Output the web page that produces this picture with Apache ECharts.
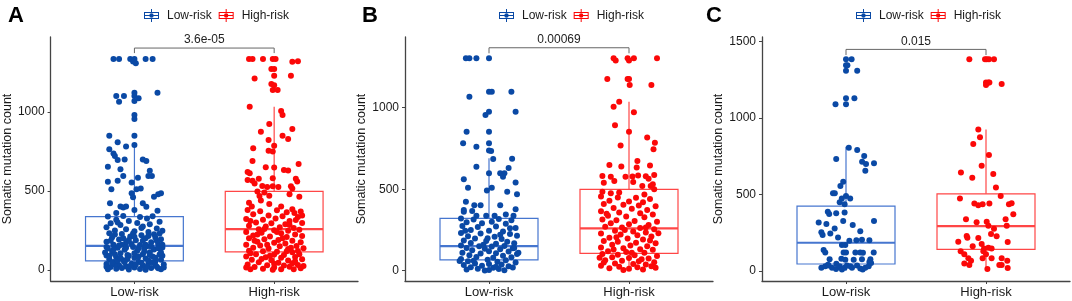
<!DOCTYPE html>
<html>
<head>
<meta charset="utf-8">
<script src="https://cdn.jsdelivr.net/npm/echarts@6/dist/echarts.min.js"></script>
<style>
html, body { margin: 0; padding: 0; background: #fff; }
#main { width: 1072px; height: 301px; }
</style>
</head>
<body>
<div id="main"></div>
<script>
var groups = ['Low-risk', 'High-risk'];
var panelLetters = ['A', 'B', 'C'];
var pValues = ['3.6e-05', '0.00069', '0.015'];
var yTicksAB = [0, 500, 1000];
var yTicksC = [0, 500, 1000, 1500];

// box stats: [min, q1, median, q3, upper whisker]
var boxA = [[0, 57, 152, 337, 791], [0, 114, 259, 498, 1034]];
var boxB = [[0, 66, 151, 321, 690], [0, 107, 260, 499, 1037]];
var boxC = [[0, 44, 183, 423, 810], [0, 140, 292, 503, 924]];

// jittered points: [offset from group centre, mutation count]
var lowA = [
[-0.15,1335],[-0.11,1335],[-0.03,1335],[-0.01,1320],[0,1335],[0.01,1308],[0.08,1335],[0.13,1335],
[-0.13,1101],[-0.11,1065],[-0.075,1101],[0,1122],[0,1101],[0,1069],[0.03,1087],[0.165,1122],
[0,981],[0,956],[-0.18,850],[0,850],[0,791],[-0.12,808],[-0.06,781],[-0.18,764],[-0.15,738],[-0.14,722],
[-0.07,700],[-0.12,696],[-0.19,654],[0.06,700],[0.085,690],[-0.10,637],[0.11,628],[0.1,595],[0.125,595],
[-0.08,595],[0.025,584],[-0.12,565],[-0.19,559],[-0.02,553],[-0.165,511],[0.015,511],[0.045,515],[-0.02,485],
[0.19,485],[0.17,480],[0.14,464],[-0.01,460],[-0.175,422],[0.06,422],[-0.1,401],[-0.06,401],[-0.08,395],
[0.085,400],[0,380],[-0.13,360],[0.165,375],
[-0.19,338],[-0.08,342],[0.04,335],[0.13,340],[-0.13,318],[0.09,325],[-0.04,310],[0.18,305],[-0.17,295],
[0.02,298],[0.11,290],[-0.1,285],[-0.2,270],[0.06,275],[0.16,262],[-0.06,258],[-0.14,250],[0.0,245],[0.1,240],
[0.2,248],[-0.18,232],[-0.09,228],[0.05,220],[0.14,226],[-0.03,212],[-0.16,205],[0.08,200],[0.19,195],
[-0.11,192],[0.01,188],[-0.2,178],[-0.06,172],[0.12,176],[0.17,165],[-0.15,160],[0.04,158],[-0.01,145],
[0.09,150],[-0.12,140],[-0.19,135],[0.2,142],[0.14,130],[-0.07,128],[0.02,122],[-0.16,115],[0.11,112],
[-0.1,105],[0.06,100],[0.18,98],[-0.2,92],[-0.04,90],[0.13,85],[-0.13,80],[0.0,78],[0.08,72],[-0.18,68],
[0.19,65],[-0.08,62],[0.15,55],[-0.15,50],[0.03,52],[-0.02,40],[0.1,42],[-0.2,38],[0.21,35],[-0.11,30],
[0.06,28],[-0.06,22],[0.16,20],[-0.17,18],[0.0,15],[0.12,12],[-0.13,8],[0.04,6],[-0.04,3],[0.19,4],
[-0.09,12],[0.08,2],[-0.19,5],[0.15,30],[-0.14,35],[0.1,60],[-0.05,70],[0.2,90],[-0.21,110],[0.07,135],
[-0.09,160],[0.16,185],[-0.01,230],[0.05,265],[-0.12,300],
[-0.2,20],[-0.16,45],[-0.12,60],[-0.07,48],[-0.03,25],[0.01,35],[0.05,45],[0.09,20],[0.13,48],[0.17,10],
[0.21,15],[-0.18,88],[-0.14,100],[-0.1,75],[-0.05,95],[0.0,105],[0.03,85],[0.07,115],[0.11,95],[0.15,78],
[0.19,110],[-0.2,145],[-0.15,130],[-0.11,155],[-0.06,140],[-0.02,165],[0.03,138],[0.08,160],[0.12,148],
[0.17,138],[0.2,160],[-0.17,185],[-0.08,200],[0.0,210],[0.1,215],[-0.14,225],[0.15,205],[-0.04,190],
[0.06,185],[0.18,230]
];
var highA = [
[-0.18,1335],[-0.155,1335],[-0.08,1335],[-0.01,1335],[0.01,1335],[0.13,1318],[0.17,1322],[-0.02,1272],
[0.0,1272],[-0.14,1213],[0.12,1230],[0.0,1230],[-0.02,1177],[0.0,1170],[-0.01,1139],[0.025,1139],
[-0.175,1034],[0.05,1006],[0.06,981],[-0.035,924],[0.13,892],[-0.095,875],[0.06,850],[0.1,829],[-0.04,823],
[0.0,787],[-0.15,770],[-0.04,755],[-0.01,750],[-0.155,690],[0.175,671],[-0.06,650],[0.0,648],[0.07,633],
[0.1,630],[-0.19,620],[-0.175,612],[-0.01,580],[-0.19,570],[-0.155,565],[-0.11,578],[0.155,577],[0.165,560],
[-0.14,548],[-0.085,532],[-0.05,525],[-0.01,530],[0.03,525],[0.12,530],[0.13,515],[-0.12,496],[-0.07,490],
[-0.035,470],[-0.105,468],[0.18,464],[0.11,480],[-0.18,426],[-0.16,401],[-0.035,418],[-0.095,440],[0.05,401],
[0.13,385],[0.145,360],[0.155,316],
[-0.19,380],[-0.1,372],[0.02,378],[0.09,365],[0.19,370],[-0.15,352],[-0.04,345],[0.06,340],[0.17,335],
[-0.2,322],[-0.08,318],[0.01,325],[0.11,310],[-0.13,300],[-0.02,295],[0.08,290],[0.2,298],[-0.18,280],
[-0.06,275],[0.04,270],[0.14,265],[-0.11,258],[0.0,252],[0.1,248],[0.18,255],[-0.2,240],[-0.09,235],
[0.05,232],[0.15,225],[-0.15,218],[-0.03,212],[0.09,208],[0.2,215],[-0.18,200],[-0.07,195],[0.03,190],
[0.13,185],[-0.12,178],[0.0,172],[0.08,168],[0.19,175],[-0.2,160],[-0.1,155],[0.04,150],[0.16,152],
[-0.15,140],[-0.04,135],[0.1,132],[0.21,138],[-0.18,122],[-0.08,118],[0.02,115],[0.13,112],[-0.13,100],
[0.0,98],[0.07,95],[0.18,100],[-0.2,85],[-0.06,80],[0.05,78],[0.15,82],[-0.16,65],[-0.02,62],[0.1,60],
[0.2,68],[-0.11,48],[0.03,45],[0.13,42],[-0.19,35],[-0.05,30],[0.07,28],[0.17,32],[-0.14,18],[0.0,15],
[0.11,20],[-0.08,8],[0.05,5],[0.19,10],[-0.17,5],[-0.01,2],[0.14,4],[-0.12,225],[0.06,200],[-0.05,160],
[0.12,140],[-0.17,105],[0.09,118],[-0.09,70],[0.0,40],[0.15,55],[-0.2,15],[0.21,25],[-0.03,90],[0.17,120],
[-0.14,185],[0.02,240],[-0.07,260],[0.11,285],[-0.17,310],[0.2,345]
];
var lowB = [
[-0.165,1303],[-0.14,1303],[-0.09,1303],[0.0,1303],[-0.14,1067],[0.0,1098],[0.02,1098],[0.16,1098],
[0.0,975],[-0.025,955],[0.19,975],[-0.16,853],[0.0,853],[-0.185,782],[-0.09,761],[0.0,782],[0.0,738],
[0.015,735],[0.03,685],[0.165,687],[-0.09,638],[0.08,598],[0.11,598],[0.1,577],[0.14,630],[0.0,598],
[-0.18,561],[0.19,542],[-0.15,509],[0.02,509],[0.13,485],[0.2,469],[-0.015,493],[-0.165,423],[-0.105,401],
[-0.06,401],[0.08,401],[0.19,377],[-0.18,372],[-0.18,362],[-0.12,366],[-0.09,338],[-0.02,338],[0.04,338],
[0.12,345],[0.175,338],
[-0.2,320],[-0.11,315],[0.07,318],[0.16,310],[-0.16,298],[-0.05,292],[0.02,300],[0.12,288],[-0.19,275],
[-0.08,268],[0.05,272],[0.19,262],[-0.13,250],[0.0,245],[0.1,240],[-0.2,232],[-0.06,228],[0.15,225],
[-0.15,212],[0.04,208],[0.2,215],[-0.1,198],[0.09,195],[-0.18,185],[-0.02,182],[0.13,178],[-0.13,170],
[0.05,165],[0.18,168],[-0.2,155],[-0.07,150],[0.02,148],[0.11,152],[-0.16,140],[-0.03,135],[0.08,132],
[0.17,138],[-0.12,125],[0.0,120],[0.14,118],[-0.19,110],[-0.06,105],[0.05,108],[0.2,102],[-0.14,95],
[0.1,92],[-0.09,85],[0.03,80],[0.16,82],[-0.2,72],[-0.01,68],[0.12,65],[-0.15,58],[0.06,55],[0.19,50],
[-0.1,45],[0.0,42],[0.09,38],[-0.18,35],[-0.05,30],[0.14,28],[-0.13,22],[0.03,18],[0.17,20],[-0.08,12],
[0.07,10],[-0.16,8],[0.0,5],[0.11,3],[-0.03,2],[0.05,25],[-0.11,62],[0.18,140],[-0.04,160],[0.08,220],
[-0.17,245],[0.15,260],[-0.01,200],[0.21,110],[-0.21,60]
];
var highB = [
[-0.11,1303],[-0.095,1290],[-0.01,1303],[0.0,1290],[0.035,1303],[0.2,1303],[-0.155,1176],[-0.01,1176],
[0.0,1176],[0.005,1139],[0.16,1139],[-0.11,1006],[-0.07,1037],[0.035,972],[-0.1,892],[0.0,853],[0.13,818],
[0.185,785],[0.175,745],[-0.06,769],[0.06,673],[0.055,634],[-0.14,648],[-0.055,640],[0.15,645],[-0.19,581],
[-0.13,576],[-0.025,576],[0.025,578],[0.065,585],[0.12,580],[0.18,588],[0.14,565],[-0.18,540],[-0.105,550],
[0.03,545],[0.095,520],[0.155,520],[0.17,530],[-0.19,485],[-0.13,475],[-0.07,480],[0.11,468],[0.18,500],
[-0.2,455],[-0.08,450],[0.05,448],[0.15,440],[-0.14,430],[0.0,425],[0.1,420],[-0.18,410],[-0.04,405],
[0.07,400],[0.19,395],[-0.11,385],[0.02,380],[0.13,372],[-0.2,365],[-0.07,358],[0.08,352],[0.17,345],
[-0.15,338],[-0.02,332],[0.11,328],[-0.19,315],[-0.09,310],[0.04,305],[0.2,300],[-0.13,292],[0.0,285],
[0.14,280],[-0.17,270],[-0.05,265],[0.08,262],[0.18,255],[-0.1,245],[0.03,240],[0.12,235],[-0.2,228],
[-0.06,222],[0.06,218],[0.16,210],[-0.14,202],[-0.01,198],[0.1,192],[-0.18,182],[-0.08,178],[0.05,172],
[0.19,168],[-0.12,160],[0.01,155],[0.13,150],[-0.2,142],[-0.04,138],[0.08,132],[0.17,128],[-0.15,120],
[-0.02,115],[0.11,110],[-0.19,102],[-0.08,98],[0.04,95],[0.2,90],[-0.12,82],[0.0,78],[0.14,75],[-0.17,65],
[-0.05,62],[0.07,58],[0.18,52],[-0.1,45],[0.03,42],[0.12,38],[-0.2,30],[-0.07,25],[0.06,22],[0.16,28],
[-0.14,15],[0.0,12],[0.1,8],[-0.04,5],[0.19,18],[-0.18,50],[0.09,70],[-0.11,130],[0.15,185],[-0.03,250],
[0.21,230],[-0.21,80],[0.02,110],[-0.09,205],[0.12,265],[-0.16,350]
];
var lowC = [
[0.0,1382],[0.04,1382],[0.0,1344],[0.01,1344],[0.0,1307],[0.08,1307],[0.0,1127],[0.06,1127],[-0.075,1088],
[0.0,1088],[0.02,804],[0.08,789],[-0.07,730],[0.13,750],[0.115,712],[0.143,697],[0.2,702],[0.138,654],
[-0.02,582],[-0.04,554],[-0.093,506],[-0.08,506],[0.0,488],[-0.03,473],[0.03,473],[-0.045,447],[-0.01,434],
[-0.13,386],[-0.12,371],[-0.07,376],[-0.01,380],[-0.195,316],[-0.14,305],[-0.02,325],[0.048,299],[0.2,325],
[0.102,259],[-0.176,251],[-0.167,233],[-0.081,277],[-0.112,244],[-0.057,218],[-0.005,168],[-0.029,168],
[0.024,196],[0.074,200],[0.114,203],[0.167,200],[-0.16,135],[-0.148,120],[-0.017,120],[0.0,120],[0.067,120],
[0.102,120],[0.121,117],[0.198,120],[-0.117,75],[-0.033,78],[-0.005,72],[0.055,72],[0.114,75],[0.174,75],
[0.167,58],[-0.176,20],[-0.148,30],[-0.124,35],[-0.1,20],[-0.071,12],[-0.045,30],[-0.029,8],[-0.01,20],
[0.007,35],[0.031,30],[0.043,20],[0.079,35],[0.102,15],[0.119,8],[0.138,20],[0.162,30],[0.179,50],
[-0.129,40],[-0.069,45]
];
var highC = [
[-0.119,1382],[-0.007,1382],[0.005,1382],[0.021,1382],[0.057,1382],[0.0,1231],[0.017,1231],[0.024,1231],
[0.0,1214],[0.112,1220],[-0.055,924],[-0.043,872],[-0.091,828],[0.021,756],[-0.031,686],[-0.179,643],
[-0.098,608],[0.052,632],[0.071,545],[0.105,488],[-0.186,473],[-0.024,435],[-0.055,428],[-0.083,440],
[0.024,440],[0.164,435],[0.183,442],[0.195,370],[-0.143,336],[0.14,336],[-0.067,317],[0.005,320],[0.148,294],
[0.057,275],[0.017,294],[-0.138,227],[-0.133,216],[-0.055,214],[0.036,240],[0.076,226],[-0.198,190],
[-0.095,160],[-0.031,175],[-0.014,145],[0.017,150],[0.04,145],[0.155,188],[-0.181,128],[-0.155,108],
[-0.019,128],[0.0,108],[-0.126,81],[-0.107,65],[-0.024,81],[0.04,81],[0.112,81],[0.152,65],[-0.155,48],
[-0.119,37],[0.095,37],[0.112,37],[0.155,18],[0.01,11]
];

var panels = [
    { low: lowA, high: highA, box: boxA, ticks: yTicksAB, yMin: -70, yMax: 1475, bracket: [1405, 1373], left: 50, legendLeft: 139, letterLeft: 8 },
    { low: lowB, high: highB, box: boxB, ticks: yTicksAB, yMin: -63, yMax: 1434, bracket: [1368, 1334], left: 405, legendLeft: 494, letterLeft: 362 },
    { low: lowC, high: highC, box: boxC, ticks: yTicksC, yMin: -67, yMax: 1528, bracket: [1447, 1410], left: 762, legendLeft: 851, letterLeft: 706 }
];

var pointColors = ['#0a49a5', '#fb0808'];
var boxColors = ['#4676cf', '#ff4646'];
var fontFamily = '"Liberation Sans", Arial, sans-serif';
var legendIcon = 'path://M0,3H15V10H0Z M1,4V9H14V4Z M0,6H15V7H0Z M7,0H8V3H7Z M7,10H8V13H7Z M7.5,4.3A2.2,2.2 0 1,1 7.5,8.7A2.2,2.2 0 1,1 7.5,4.3Z';

function renderBox(params, api) {
    var x = api.value(0);
    var lo = api.coord([x, api.value(1)]);
    var q1 = api.coord([x, api.value(2)]);
    var md = api.coord([x, api.value(3)]);
    var q3 = api.coord([x, api.value(4)]);
    var hi = api.coord([x, api.value(5)]);
    var half = api.size([0.35, 0])[0];
    var c = boxColors[params.dataIndex];
    var line = { stroke: c, lineWidth: 1.2 };
    return {
        type: 'group',
        children: [
            { type: 'line', shape: { x1: hi[0], y1: hi[1], x2: q3[0], y2: q3[1] }, style: line },
            { type: 'line', shape: { x1: q1[0], y1: q1[1], x2: lo[0], y2: lo[1] }, style: line },
            { type: 'rect', shape: { x: q3[0] - half, y: q3[1], width: half * 2, height: q1[1] - q3[1] }, style: { fill: 'none', stroke: c, lineWidth: 1.2 } },
            { type: 'line', shape: { x1: md[0] - half, y1: md[1], x2: md[0] + half, y2: md[1] }, style: { stroke: c, lineWidth: 2.2 } }
        ]
    };
}

function renderBracket(params, api) {
    var a = api.coord([1, api.value(0)]);
    var b = api.coord([2, api.value(0)]);
    var d = api.coord([1, api.value(1)]);
    return {
        type: 'group',
        children: [
            { type: 'polyline', shape: { points: [[a[0], d[1]], [a[0], a[1]], [b[0], b[1]], [b[0], d[1]]] }, style: { fill: 'none', stroke: '#666', lineWidth: 1 } },
            { type: 'text', style: { x: (a[0] + b[0]) / 2, y: a[1] - 2, text: pValues[params.seriesIndex / 4 | 0], align: 'center', verticalAlign: 'bottom', fontSize: 12, fontFamily: fontFamily, fill: '#222' } }
        ]
    };
}

var myChart = echarts.init(document.getElementById('main'));

var option = {
    backgroundColor: '#fff',
    animation: false,
    textStyle: { fontFamily: fontFamily },
    grid: [],
    xAxis: [],
    yAxis: [],
    legend: [],
    series: [],
    graphic: []
};

panels.forEach(function (p, i) {
    option.grid.push({ left: p.left, top: 37, width: 308, height: 244 });
    option.xAxis.push({
        gridIndex: i, type: 'value', min: 0.4, max: 2.6,
        splitLine: { show: false },
        axisLine: { onZero: false, lineStyle: { color: '#444', width: 1.3 } },
        axisTick: { customValues: [1, 2], length: 3, lineStyle: { color: '#444' } },
        axisLabel: {
            customValues: [1, 2], margin: 5, fontSize: 13, color: '#1a1a1a',
            formatter: function (v) { return groups[Math.round(v) - 1]; }
        }
    });
    option.yAxis.push({
        gridIndex: i, type: 'value', min: p.yMin, max: p.yMax,
        name: 'Somatic mutation count', nameLocation: 'middle', nameGap: 34,
        nameTextStyle: { fontSize: 12.5, color: '#1a1a1a' },
        splitLine: { show: false },
        axisLine: { show: true, lineStyle: { color: '#444', width: 1.3 } },
        axisTick: { customValues: p.ticks, length: 3, lineStyle: { color: '#444' } },
        axisLabel: {
            customValues: p.ticks, margin: 6, fontSize: 12, color: '#1a1a1a',
            formatter: function (v) { return String(v); }
        }
    });
    option.legend.push({
        data: groups, left: p.legendLeft, top: 4, itemWidth: 15, itemHeight: 13, itemGap: 7,
        icon: legendIcon,
        textStyle: { fontSize: 12, color: '#1a1a1a', padding: [0, 0, 0, 3] }
    });
    option.series.push({
        type: 'custom', xAxisIndex: i, yAxisIndex: i, renderItem: renderBox, z: 1,
        data: p.box.map(function (b, k) { return [k + 1].concat(b); })
    });
    option.series.push({
        name: groups[0], type: 'scatter', xAxisIndex: i, yAxisIndex: i, symbolSize: 6, z: 2,
        itemStyle: { color: pointColors[0], opacity: 1 },
        data: p.low.map(function (d) { return [1 + d[0], d[1]]; })
    });
    option.series.push({
        name: groups[1], type: 'scatter', xAxisIndex: i, yAxisIndex: i, symbolSize: 6, z: 2,
        itemStyle: { color: pointColors[1], opacity: 1 },
        data: p.high.map(function (d) { return [2 + d[0], d[1]]; })
    });
    option.series.push({
        type: 'custom', xAxisIndex: i, yAxisIndex: i, renderItem: renderBracket, z: 3,
        data: [p.bracket]
    });
    option.graphic.push({
        type: 'text', left: p.letterLeft, top: 5,
        style: { text: panelLetters[i], fontSize: 22, fontWeight: 'bold', fontFamily: fontFamily, fill: '#000' }
    });
});

myChart.setOption(option);
</script>
</body>
</html>
